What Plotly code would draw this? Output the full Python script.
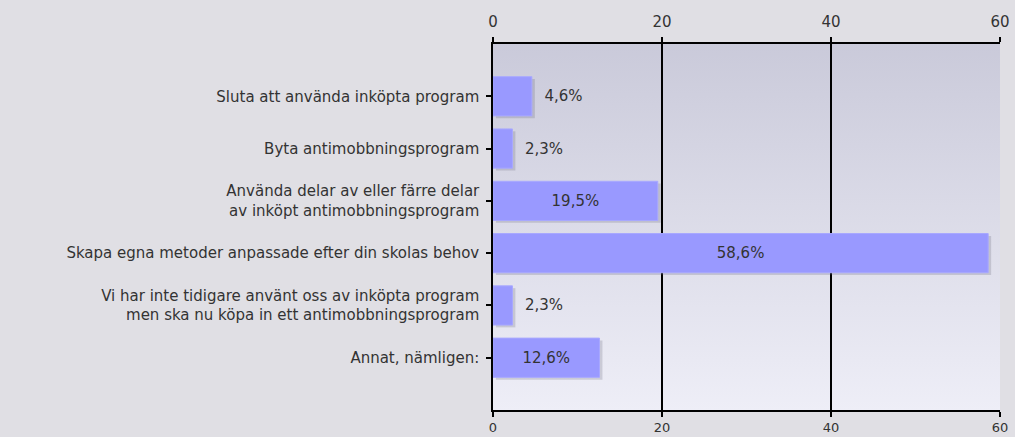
import base64
import plotly.graph_objects as go

# svarsalternativ och andel (%)
kategorier = [
    "Sluta att använda inköpta program",
    "Byta antimobbningsprogram",
    "Använda delar av eller färre delar<br>av inköpt antimobbningsprogram",
    "Skapa egna metoder anpassade efter din skolas behov",
    "Vi har inte tidigare använt oss av inköpta program<br>men ska nu köpa in ett antimobbningsprogram",
    "Annat, nämligen:",
]
andel = [4.6, 2.3, 19.5, 58.6, 2.3, 12.6]
etiketter = ["4,6%", "2,3%", "19,5%", "58,6%", "2,3%", "12,6%"]
tick_varden = [0, 20, 40, 60]

font = "DejaVu Sans, Verdana, sans-serif"
fs = 15

# bakgrundsgradient för ritytan
svg = ('<svg xmlns="http://www.w3.org/2000/svg" width="10" height="100" preserveAspectRatio="none">'
       '<defs><linearGradient id="g" x1="0" y1="0" x2="0" y2="1">'
       '<stop offset="0" stop-color="#cacada"/><stop offset="1" stop-color="#eeeef7"/>'
       '</linearGradient></defs><rect width="10" height="100" fill="url(#g)"/></svg>')
bg = "data:image/svg+xml;base64," + base64.b64encode(svg.encode()).decode()

positioner = ["outside", "outside", "inside", "inside", "outside", "inside"]
mallar = ["\u00a0\u00a0%{text}" if p == "outside" else "%{text}" for p in positioner]

fig = go.Figure()

# skugga
fig.add_trace(go.Bar(
    y=kategorier, x=andel, base=0.35, orientation="h", width=0.75, offset=-0.33,
    marker=dict(color="rgba(90,90,110,0.22)", line=dict(width=0)),
    hoverinfo="skip", showlegend=False,
))

fig.add_trace(go.Bar(
    y=kategorier, x=andel, orientation="h", width=0.75, offset=-0.375,
    marker=dict(color="#9999ff", line=dict(color="#a8a8ff", width=1)),
    text=etiketter, texttemplate=mallar, textposition=positioner,
    insidetextanchor="middle",
    textfont=dict(family=font, size=fs, color="#333333"),
    cliponaxis=False, showlegend=False,
))

# osynlig spår för undre x-axeln
fig.add_trace(go.Scatter(x=[0, 60], y=[kategorier[0], kategorier[0]], xaxis="x2",
                         mode="markers", marker=dict(opacity=0), hoverinfo="skip",
                         showlegend=False))

axel = dict(range=[0, 60], tickvals=tick_varden, showgrid=True, gridcolor="#000000",
            gridwidth=1.5, zeroline=False, showline=True, linecolor="#000000", linewidth=1.5,
            ticks="outside", ticklen=5, tickcolor="#000000", tickwidth=1.5,
            automargin=False)

fig.update_layout(
    width=1015, height=437,
    margin=dict(l=493, r=15, t=44, b=27, autoexpand=False),
    paper_bgcolor="#e0dfe4",
    plot_bgcolor="rgba(0,0,0,0)",
    barmode="overlay",
    font=dict(family=font, size=fs, color="#333333"),
    xaxis=dict(side="top", ticklabelstandoff=4,
               tickfont=dict(family=font, size=fs, color="#333333"), **axel),
    xaxis2=dict(overlaying="x", matches="x", side="bottom", anchor="y",
                ticklabelstandoff=0,
                tickfont=dict(family=font, size=13, color="#333333"), **axel),
    yaxis=dict(categoryorder="array", categoryarray=kategorier, autorange=False,
               range=[6, -1], showgrid=False, zeroline=False, showline=True,
               linecolor="#000000", linewidth=1.5, ticks="outside", ticklen=5,
               tickcolor="#000000", tickwidth=1.5, ticklabelstandoff=4, automargin=False,
               tickfont=dict(family=font, size=fs, color="#333333")),
    images=[dict(source=bg, xref="paper", yref="paper", x=0, y=1, sizex=1, sizey=1,
                 sizing="stretch", layer="below")],
)

fig.write_html("out.html", config={"displayModeBar": False},
               post_script="document.body.style.margin='0';document.body.style.padding='0';")
